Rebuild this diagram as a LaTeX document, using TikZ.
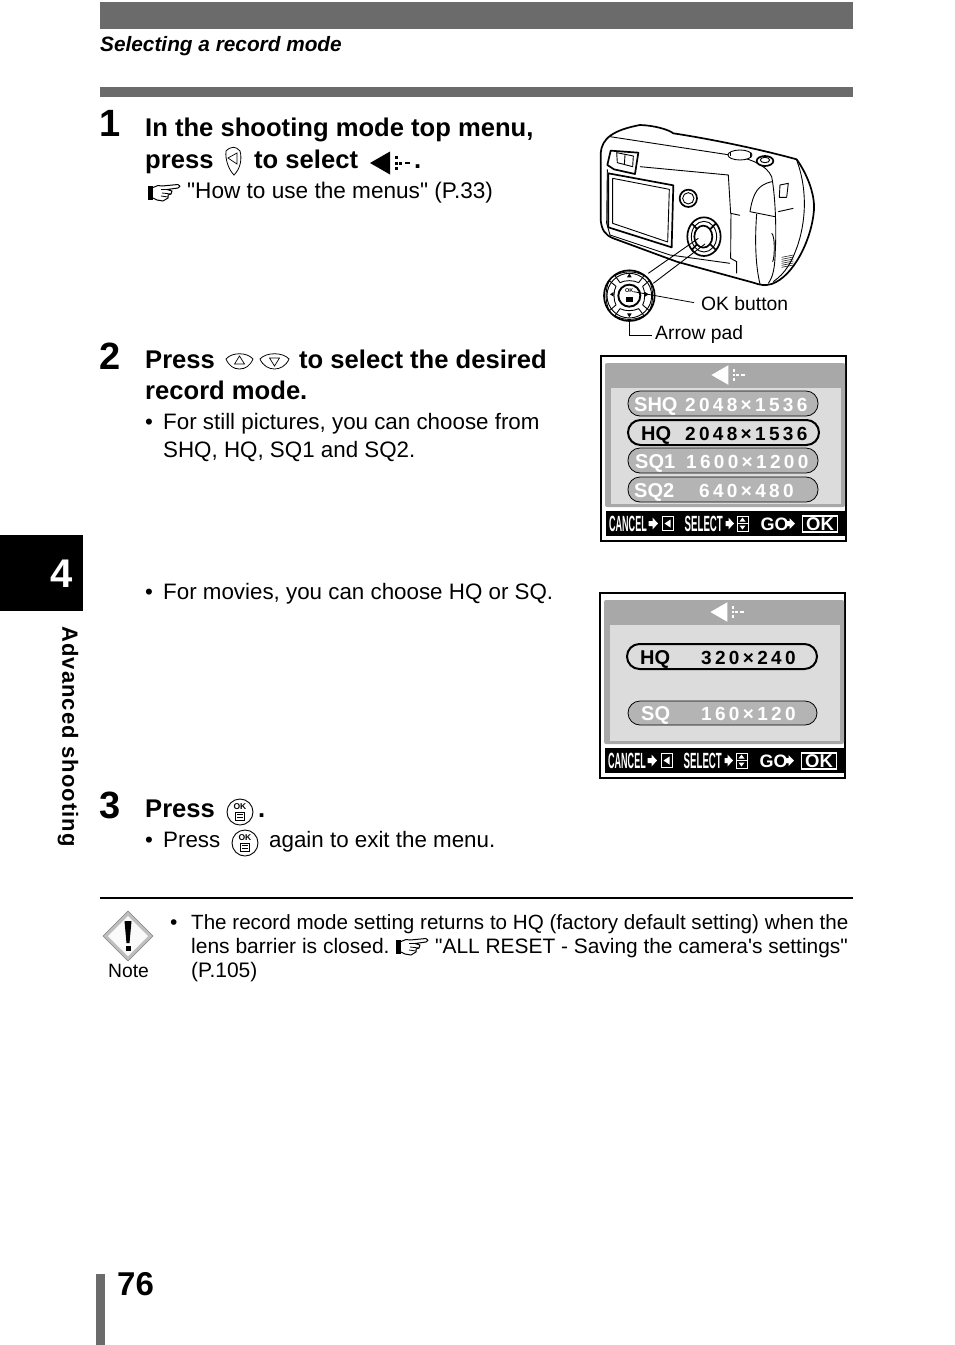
\documentclass[tikz,border=0pt]{standalone}
\usepackage{fontspec}
\setmainfont{Liberation Sans}
\newfontfamily\plainfont{Liberation Sans}
\usetikzlibrary{calc}
\definecolor{bargray}{HTML}{6B6B6B}
\definecolor{lcdgray}{HTML}{A8A8A8}
\definecolor{lcdlight}{HTML}{DCDCDC}
\definecolor{pillgray}{HTML}{B4B4B4}
\tikzset{
  bodytext/.style={anchor=base west,inner sep=0pt,font=\fontsize{22.35}{22}\plainfont},
  headtext/.style={anchor=base west,inner sep=0pt,font=\fontsize{25.6}{25}\selectfont\bfseries},
  notetext/.style={anchor=base west,inner sep=0pt,font=\fontsize{21}{21}\plainfont},
  labeltext/.style={anchor=base west,inner sep=0pt,font=\fontsize{19.3}{20}\selectfont},
  steptext/.style={anchor=base west,inner sep=0pt,font=\fontsize{38}{38}\selectfont\bfseries},
  lcdlabel/.style={anchor=base west,inner sep=0pt,font=\fontsize{20}{19}\selectfont\bfseries},
  lcdtext/.style={anchor=base west,inner sep=0pt,font=\fontsize{19}{19}\selectfont\bfseries\addfontfeature{LetterSpace=17.5}},
  bartext/.style={anchor=base west,inner sep=0pt,white,font=\fontsize{22}{22}\selectfont\bfseries},
  pill/.style={draw=black,line width=.8pt,fill=pillgray,rounded corners=12pt},
  pillon/.style={draw=black,line width=2pt,fill=lcdlight,rounded corners=12.5pt},
  camline/.style={line width=.9pt,line join=round},
  camthick/.style={line width=1.7pt,line join=round},
  menuicon/.pic={
    \fill[pic actions] (-16,0) -- (4,-11.5) -- (4,11.5) -- cycle;
    \foreach \s in {-7,-1.5,4}
      \fill[pic actions] (9,\s) rectangle +(3.2,3.2);
    \fill[pic actions] (13,-1.5) rectangle +(3.2,3.2);
    \fill[pic actions] (18.5,-1.2) rectangle +(5,2.4);
  },
  handicon/.pic={
    \fill (0,1) rectangle (4.5,15);
    \draw[line width=1pt,line join=round,fill=white] (5,2.5) -- (10,.5) -- (14,1) -- (30,-.5)
      .. controls (32.5,0) and (32.5,2.5) .. (30,3) -- (19,4.5) -- (24,6) -- (23,9) -- (20,10) -- (20,13)
      -- (15,16) -- (9,15) -- (5,13);
    \draw[line width=.8pt] (19,4.5) -- (13,4.5) (23,9) -- (14,8) (20,12) -- (13,11);
  },
  okicon/.pic={
    \draw[line width=.9pt] (0,0) circle (13);
    \node[inner sep=0pt,font=\fontsize{8.5}{8}\selectfont\bfseries] (-oktext) at (0,-5) {OK};
    \draw[line width=.8pt] (-4.5,0) rectangle (4.5,8);
    \draw[line width=.8pt] (-3,2.5) -- (3,2.5) (-3,5.5) -- (3,5.5);
  },
  statusbar/.pic={
    \fill[black] (0,0) rectangle (239,25);
    \node[bartext] (-cancel) at (3.5,20) {\scalebox{.41}[1]{CANCEL}};
    \fill[white] (43,10) -- (47,10) -- (47,6.5) -- (52.5,12.5) -- (47,18.5) -- (47,15) -- (43,15) -- cycle;
    \draw[white,line width=1pt] (56.5,5) rectangle (68,19.5);
    \fill[white] (59,12.5) -- (65,8.5) -- (65,16.5) -- cycle;
    \node[bartext] (-select) at (79,20) {\scalebox{.44}[1]{SELECT}};
    \fill[white] (120,10) -- (123,10) -- (123,6.5) -- (128.5,12.5) -- (123,18.5) -- (123,15) -- (120,15) -- cycle;
    \draw[white,line width=.8pt] (131.5,5) rectangle (142.5,20) (131.5,12.5) -- (142.5,12.5);
    \fill[white] (137,6.5) -- (140,10.5) -- (134,10.5) -- cycle (137,18.5) -- (140,14.5) -- (134,14.5) -- cycle;
    \node[bartext] (-go) at (155,19.5) {\fontsize{18}{18}\selectfont GO};
    \fill[white] (181,10) -- (184,10) -- (184,7) -- (189.5,12.5) -- (184,18) -- (184,15) -- (181,15) -- cycle;
    \draw[white,line width=1.2pt] (197,5) rectangle (232,21);
    \node[bartext,anchor=base] (-ok) at (214.5,19.5) {\fontsize{18.5}{18}\selectfont OK};
  },
  lcdback/.pic={
    \draw[black,line width=1.6pt,fill=white] (0,0) rectangle (245,185);
    \fill[lcdgray,rounded corners=2pt] (4,7) rectangle (244,151);
    \fill[lcdlight] (10,32) rectangle (240,148);
    \pic (-bar) at (4.5,155) {statusbar};
  }
}
\begin{document}
\begin{tikzpicture}[x=1pt,y=-1pt]
\useasboundingbox (0,0) rectangle (954,1345);
% header bars and side tab
\fill[bargray] (100,2) rectangle (853,29);
\fill[bargray] (100,87) rectangle (853,97);
\fill[black] (0,535) rectangle (83,611);
\fill[bargray] (96,1274) rectangle (105,1345);
\draw[line width=2pt] (100,898) -- (853,898);
\node[anchor=base west,inner sep=0pt,font=\fontsize{20.8}{21}\selectfont\bfseries\itshape] (title) at (100,51) {Selecting a record mode};
\node[inner sep=0pt,white,font=\fontsize{40}{40}\selectfont\bfseries] (chapter) at (62,574) {4};
\node[inner sep=0pt,rotate=-90,font=\fontsize{22}{22}\selectfont\bfseries\addfontfeature{LetterSpace=5}] (side) at (68,736.5) {Advanced shooting};
\node[anchor=base west,inner sep=0pt,font=\fontsize{33}{33}\selectfont\bfseries] (pageno) at (117,1295) {76};
% step 1
\node[steptext] (one) at (99,136) {1};
\node[headtext] (s1a) at (145,136) {In the shooting mode top menu,};
\node[headtext] (s1b) at (145,168) {press};
\draw[line width=.8pt] (226,151) .. controls (231,146) and (236,146) .. (240,151)
  .. controls (242,158) and (241,168) .. (234,175) .. controls (229,170) and (225,160) .. (226,151) -- cycle;
\draw[line width=.7pt] (228,158) -- (237,153) -- (237,164) -- cycle;
\node[headtext] (s1c) at (254,168) {to select};
\pic[black] at (386,163) {menuicon};
\node[headtext] (s1d) at (414,168) {.};
\pic at (148,185) {handicon};
\node[bodytext,font=\fontsize{22.6}{22}\plainfont] (s1e) at (187,198) {"How to use the menus" (P.33)};
% step 2
\node[steptext] (two) at (99,369) {2};
\node[headtext] (s2a) at (145,368) {Press};
\draw[line width=.8pt] (226,359) .. controls (232,352) and (247,352) .. (253,359) .. controls (250,366) and (245,369) .. (239.5,369) .. controls (234,369) and (229,366) .. (226,359) -- cycle;
\draw[line width=.7pt] (234.5,364) -- (239.5,356) -- (244.5,364) -- cycle;
\draw[line width=.8pt] (260,359) .. controls (266,352) and (283,352) .. (289,359) .. controls (286,366) and (280,369) .. (274.5,369) .. controls (269,369) and (263,366) .. (260,359) -- cycle;
\draw[line width=.7pt] (269.5,358) -- (274.5,366) -- (279.5,358) -- cycle;
\node[headtext] (s2b) at (299,368) {to select the desired};
\node[headtext] (s2c) at (145,399) {record mode.};
\node[bodytext] (b1) at (145,429) {•};
\node[bodytext] (s2d) at (163,429) {For still pictures, you can choose from};
\node[bodytext] (s2e) at (163,457) {SHQ, HQ, SQ1 and SQ2.};
\node[bodytext] (b2) at (145,599.5) {•};
\node[bodytext] (s2f) at (163,599.5) {For movies, you can choose HQ or SQ.};
% step 3
\node[steptext] (three) at (99,818) {3};
\node[headtext] (s3a) at (145,817) {Press};
\pic (okA) at (240,812) {okicon};
\node[headtext] (s3b) at (258,817) {.};
\node[bodytext] (b3) at (145,847) {•};
\node[bodytext] (s3c) at (163,847) {Press};
\pic (okB) at (245,843) {okicon};
\node[bodytext] (s3d) at (269,847) {again to exit the menu.};
% note
\fill[lightgray,draw=gray,line width=.5pt] (128,911) -- (153,936) -- (128,961) -- (103,936) -- cycle;
\fill[white!92!lightgray] (128,916) -- (148,936) -- (128,956) -- (108,936) -- cycle;
\fill[black] (124.5,921) -- (131.5,921) -- (129.5,943) -- (126.5,943) -- cycle;
\fill[black] (125.5,946) rectangle (130.5,951);
\node[labeltext] (note) at (108,977) {Note};
\node[notetext] (b4) at (170,929) {•};
\node[notetext,font=\fontsize{20.6}{21}\plainfont] (n1) at (191,929) {The record mode setting returns to HQ (factory default setting) when the};
\node[notetext] (n2) at (191,953.5) {lens barrier is closed.};
\pic at (396,939) {handicon};
\node[notetext,font=\fontsize{20.9}{21}\plainfont] (n3) at (435,953.5) {"ALL RESET - Saving the camera's settings"};
\node[notetext] (n4) at (191,977.5) {(P.105)};
% first screen
\pic (lcdA) at (601,356) {lcdback};
\pic[white,scale=.85] at (725,375) {menuicon};
\draw[pill] (628,391) rectangle (818,416);
\draw[pillon] (628,420) rectangle (819,445);
\draw[pill] (628,448) rectangle (818,473);
\draw[pill] (628,477) rectangle (818,502);
\node[lcdlabel,white] (a1) at (634,411) {SHQ};
\node[lcdtext,white] (a2) at (685,411) {2048×1536};
\node[lcdlabel] (a3) at (641,440) {HQ};
\node[lcdtext] (a4) at (685,440) {2048×1536};
\node[lcdlabel,white] (a5) at (635,468) {SQ1};
\node[lcdtext,white] (a6) at (686,468) {1600×1200};
\node[lcdlabel,white] (a7) at (634,497) {SQ2};
\node[lcdtext,white] (a8) at (699,497) {640×480};
% second screen
\pic (lcdB) at (600,593) {lcdback};
\pic[white,scale=.85] at (724,612) {menuicon};
\draw[pillon] (627,644) rectangle (817,669);
\draw[pill] (628,701) rectangle (817,725);
\node[lcdlabel] (c1) at (640,664) {HQ};
\node[lcdtext] (c2) at (701,664) {320×240};
\node[lcdlabel,white] (c3) at (641,720) {SQ};
\node[lcdtext,white] (c4) at (701,720) {160×120};
% camera
\begin{scope}[shift={(590,110)},x=.3333pt,y=-.3333pt]
\draw[camthick,fill=white] (32,130) .. controls (35,85) and (70,60) .. (150,45)
  .. controls (190,46) and (235,58) .. (250,70) .. controls (350,85) and (500,115) .. (620,148)
  .. controls (650,190) and (675,250) .. (672,300)
  .. controls (665,390) and (610,500) .. (545,522) .. controls (525,528) and (510,525) .. (490,518)
  -- (260,455) -- (70,385) .. controls (45,375) and (35,360) .. (32,330) -- cycle;
\draw[camline] (60,80) -- (420,135) .. controls (480,145) and (530,165) .. (545,200)
  .. controls (555,250) and (560,350) .. (556,420) .. controls (555,470) and (550,500) .. (535,520);
\draw[camline] (620,150) .. controls (650,230) and (650,320) .. (625,400) .. controls (605,460) and (585,490) .. (550,515);
\draw[camline] (150,170) -- (415,195) -- (422,310) -- (450,316) (423,310) -- (422,445) -- (440,455) -- (440,490);
\draw[camline] (52,178) -- (50,340) -- (60,375) -- (240,435) -- (420,460);
\draw[camthick] (55,190) -- (250,226) -- (245,412) -- (55,352) -- cycle;
\draw[camline] (68,205) -- (238,238) -- (233,396) -- (68,340) -- cycle;
\draw[camthick,fill=white] (52,165) -- (62,122) -- (145,128) -- (135,192) -- (72,178) -- cycle;
\draw[camline] (80,128) -- (130,138) -- (128,170) -- (82,158) -- cycle (105,135) -- (103,165);
\draw[camline,fill=white] (450,135) ellipse (36 and 15);
\draw[camline] (420,125) -- (420,138) (482,130) -- (482,143);
\draw[camthick,fill=white] (525,153) ellipse (25 and 15);
\draw[camline] (525,150) ellipse (14 and 8);
\draw[camthick] (295,265) circle (26);
\draw[camline] (295,265) circle (17);
\draw[camline] (545,215) .. controls (505,225) and (490,245) .. (480,305) -- (555,320);
\draw[camline] (500,312) .. controls (495,380) and (495,460) .. (510,522);
\draw[camline] (570,225) -- (595,220) -- (590,262) -- (568,262) -- cycle;
\draw[camline] (565,305) -- (610,295) (545,370) .. controls (555,375) and (555,440) .. (548,455);
\foreach \s in {0,6,...,30}
  \draw[line width=.5pt] (575,442+\s) -- (610,435+\s);
\draw[camthick] (342,380) ellipse (50 and 58);
\draw[camline] (342,380) ellipse (38 and 46);
\draw[camthick,fill=white] (340,380) ellipse (27 and 33);
\draw[camthick] (305,340) -- (322,358) (378,340) -- (360,358) (305,420) -- (322,402) (378,420) -- (360,402);
\coordinate (lineA) at (175,490);
\coordinate (lineB) at (190,520);
\coordinate (padA) at (325,385);
\coordinate (padB) at (345,402);
\draw[camline] (lineA) -- (padA) (lineB) -- (padB);
\fill[white] (118,557) circle (75);
\draw[camthick] (118,557) circle (76);
\draw[camline] (118,557) circle (67);
\draw[camline] (75,497) .. controls (100,482) and (135,482) .. (162,497) -- (146,518) .. controls (130,510) and (105,510) .. (90,518) -- cycle;
\draw[camline] (75,617) .. controls (100,632) and (135,632) .. (162,617) -- (146,596) .. controls (130,604) and (105,604) .. (90,596) -- cycle;
\draw[camline] (58,512) .. controls (45,537) and (45,577) .. (58,602) -- (78,585) .. controls (70,572) and (70,542) .. (78,529) -- cycle;
\draw[camline] (178,512) .. controls (191,537) and (191,577) .. (178,602) -- (158,585) .. controls (166,572) and (166,542) .. (158,529) -- cycle;
\draw[line width=1.9pt,fill=white] (118,557) circle (33);
\fill (118,490) -- (125,502) -- (111,502) -- cycle (118,622) -- (125,610) -- (111,610) -- cycle;
\fill (60,553) -- (71,546) -- (71,560) -- cycle (176,553) -- (165,546) -- (165,560) -- cycle;
\node[inner sep=0pt,font=\fontsize{5.5}{6}\selectfont\bfseries] (padok) at (118,541) {OK};
\draw[fill=black] (109,563) rectangle (127,574);
\coordinate (okdot) at (130,545);
\coordinate (okend) at (312,578);
\draw[line width=.8pt] (okdot) -- (okend);
\coordinate (padbase) at (118,633);
\coordinate (padcorner) at (118,676);
\coordinate (padend) at (185,676);
\draw[line width=.8pt] (padbase) -- (padcorner) -- (padend);
\end{scope}
\node[labeltext] (okbutton) at (701,310) {OK button};
\node[labeltext] (arrowpad) at (655,339) {Arrow pad};
\end{tikzpicture}
\end{document}
